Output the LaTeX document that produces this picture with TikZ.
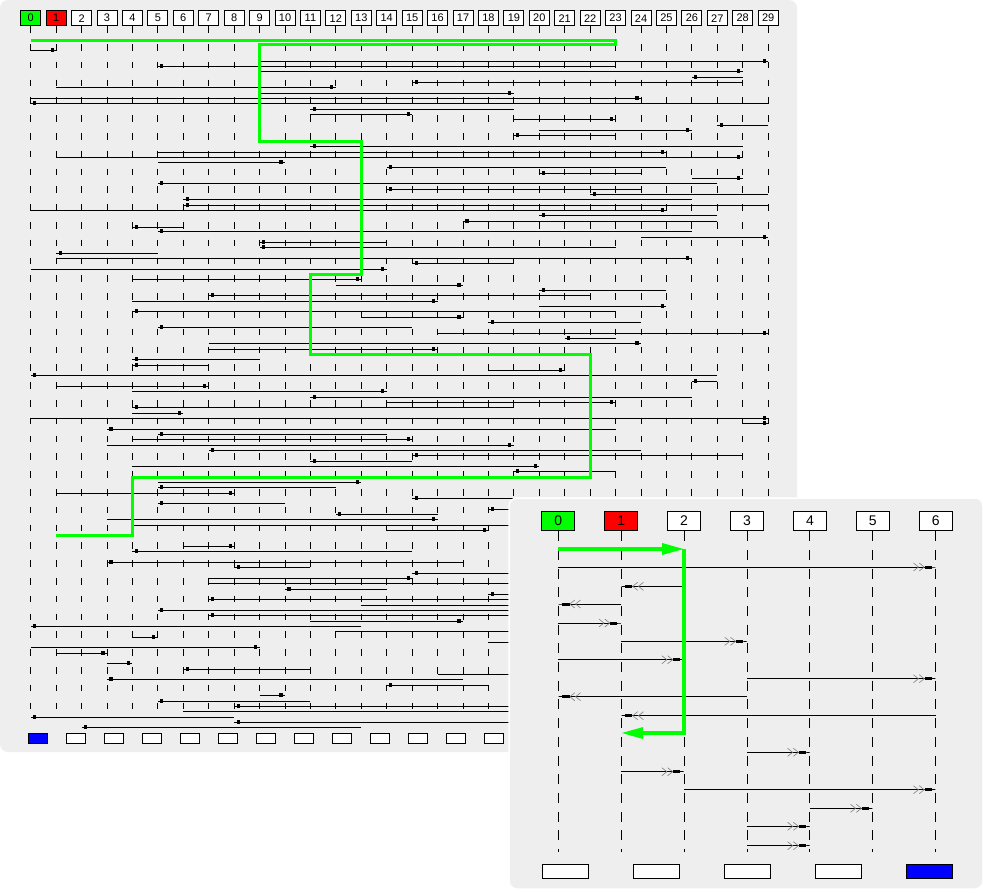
\documentclass[tikz,border=0pt]{standalone}
\usepackage{fontspec}
\setmainfont{Liberation Sans}
\usetikzlibrary{arrows.meta,calc}

\definecolor{panelgrey}{RGB}{238,238,238}
\definecolor{pathgreen}{RGB}{0,255,0}
\definecolor{headred}{RGB}{255,0,0}
\definecolor{slotblue}{RGB}{0,0,255}

\tikzset{
  lhead/.style={draw,line width=0.8pt,fill=white,minimum width=20pt,minimum height=15pt,inner sep=0pt,font=\fontsize{11}{11}\selectfont},
  rhead/.style={draw,line width=0.8pt,fill=white,minimum width=33pt,minimum height=19.4pt,inner sep=0pt,font=\fontsize{14}{14}\selectfont},
  llife/.style={line width=0.9pt,dash pattern=on 6.7pt off 11.1pt},
  rlife/.style={line width=1pt,dash pattern=on 10pt off 8.7pt},
  msg/.style={line width=0.9pt},
  sq/.style={fill,inner sep=0pt,minimum size=3.2pt},
  route/.style={pathgreen,line width=3pt},
  sig/.style={line width=0.8pt,-{Straight Barb[length=5pt,width=8pt,sep=0pt,line width=0.6pt,color=gray] Straight Barb[length=5pt,width=8pt,sep=0pt,line width=0.6pt,color=gray] Rectangle[length=7pt,width=3pt,sep=0pt] Rectangle[length=4pt,width=0.8pt,sep=0pt]}},
  lslot/.style={draw,line width=0.8pt,fill=white,minimum width=19.4pt,minimum height=10.7pt,inner sep=0pt},
  rslot/.style={draw,line width=0.8pt,fill=white,minimum width=46.5pt,minimum height=13.3pt,inner sep=0pt},
}

\begin{document}
\begin{tikzpicture}[x=1pt,y=1pt,yscale=-1]
\useasboundingbox (0,0) rectangle (983,892);

% big trace panel
\fill[panelgrey,rounded corners=8pt] (0,0) rectangle (797,752);

% Text Node
\node[lhead,fill=pathgreen] (h0) at (30.7,18.2) {0};
\node[lhead,fill=headred] (h1) at (56.1,18.2) {1};
\foreach \i in {2,...,29}
  \node[lhead] (h\i) at (30.7+25.43*\i,18.2) {\i};

\foreach \i in {0,...,29}
  \draw[llife] (h\i.south) -- (h\i |- 0,720);

% messages: y / from / to
\foreach \yy/\src/\dst in {
  50/0/1, 61/9/29, 66/23/5, 71/9/28, 77/28/26, 82/28/15, 87/1/12, 93/9/19,
  98/0/24, 103/29/0, 109/19/11, 114/11/15, 119/19/23, 125/29/27, 130/20/26,
  135/23/19, 146/28/11, 152/5/25, 157/1/28, 162/5/10, 167/25/14, 173/24/20,
  178/26/28, 183/27/5, 189/24/14, 194/29/22, 199/26/6, 205/29/6, 210/0/25,
  215/27/20, 221/27/17, 227/6/4, 231/26/5, 237/24/29, 242/14/9, 247/23/9,
  253/5/1, 258/1/26, 263/19/15, 269/0/14, 279/4/13, 285/12/17, 290/25/20,
  295/22/7, 301/4/16, 306/20/25, 311/23/4, 317/13/17, 322/24/18, 327/15/5,
  333/16/29, 338/23/21, 343/7/24, 349/7/16, 359/9/4, 365/7/4, 370/18/21,
  375/27/0, 381/27/26, 386/1/7, 391/4/14, 397/26/11, 402/14/23, 407/19/4,
  413/4/6, 418/0/29, 423/28/29, 429/23/3, 434/14/5, 439/4/15, 445/3/19,
  450/24/7, 455/28/15, 461/15/11, 466/4/20, 471/23/19, 482/5/13, 487/12/5,
  493/1/8, 498/20/15, 503/10/5, 509/20/18, 514/16/12, 519/3/16, 525/4/20,
  530/14/18, 546/6/8, 551/15/4, 562/17/3, 567/11/8, 573/20/15, 578/7/15,
  583/7/21, 589/14/10, 594/21/18, 599/21/7, 605/13/21, 610/21/5, 615/21/7,
  621/11/17, 626/13/0, 631/12/21, 637/4/5, 642/18/21, 647/0/9, 653/1/3,
  663/3/4, 669/11/6, 674/16/21, 679/17/3, 685/18/14, 695/9/10, 701/11/5,
  706/21/8, 711/6/21, 717/8/0, 722/21/8, 727/13/2}{
  \coordinate (a) at (h\src |- 0,\yy);
  \coordinate (b) at (h\dst |- 0,\yy);
  \draw[msg] (a) -- (b);
  \node[sq] at ($(b)!4pt!(a)$) {};
}

% highlighted path
\draw[route] (h0 |- 0,40) -- (h23 |- 0,40) -- (h23 |- 0,44.7) -- (h9 |- 0,44.7)
  -- (h9 |- 0,141) -- (h13 |- 0,141) -- (h13 |- 0,274.3) -- (h11 |- 0,274.3)
  -- (h11 |- 0,354.3) -- (h22 |- 0,354.3) -- (h22 |- 0,477.3) -- (h4 |- 0,477.3)
  -- (h4 |- 0,535.3) -- (h1 |- 0,535.3);

\node[lslot,fill=slotblue] (ls0) at (38,738.4) {};
\foreach \k in {1,...,14}
  \node[lslot] (ls\k) at (38+38*\k,738.4) {};

% zoomed panel
\draw[white,line width=1.5pt,fill=panelgrey,rounded corners=8pt] (509,498) rectangle (983,889);

\node[rhead,fill=pathgreen] (r0) at (558.3,521) {0};
\node[rhead,fill=headred] (r1) at (621.2,521) {1};
\foreach \i in {2,...,6}
  \node[rhead] (r\i) at (558.3+62.9*\i,521) {\i};

\foreach \i in {0,...,6}
  \draw[rlife] (r\i.south) -- (r\i |- 0,852);

\foreach \yy/\src/\dst in {
  567/0/6, 586.3/2/1, 604/1/0, 623/0/1, 641.3/1/3, 659.7/0/2, 678.7/3/6,
  696.7/3/0, 715.7/6/1, 752.3/3/4, 771.7/1/2, 789.7/2/6, 808.3/4/5,
  826.3/3/4, 845.7/3/4}
  \draw[sig] (r\src |- 0,\yy) -- (r\dst |- 0,\yy);

\draw[route,line width=3.3pt,-{Triangle[length=22pt,width=11pt]}] (r0 |- 0,549) -- (r2 |- 0,549);
\draw[route,line width=3.3pt,-{Triangle[length=22pt,width=11pt]}] (r2 |- 0,549) -- (r2 |- 0,733) -- (r1 |- 0,733);

\foreach \k in {0,...,3}
  \node[rslot] (rs\k) at (565.2+91*\k,871.3) {};
\node[rslot,fill=slotblue] (rs4) at (929.2,871.3) {};

\end{tikzpicture}
\end{document}
